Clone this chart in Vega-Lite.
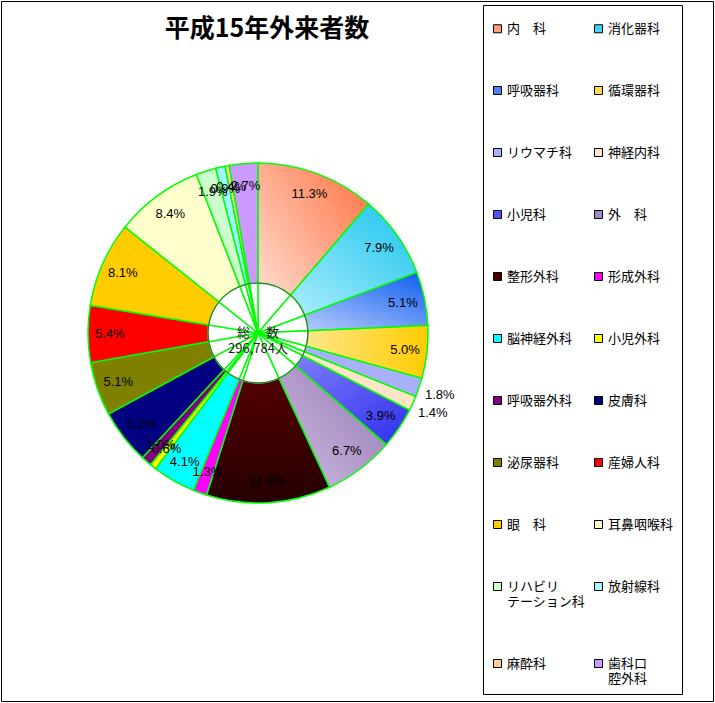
{
  "$schema": "https://vega.github.io/schema/vega-lite/v6.json",
  "width": 712,
  "height": 700,
  "autosize": {"type": "none"},
  "padding": {"left": 1, "top": 1, "right": 2, "bottom": 2},
  "background": "white",
  "config": {"view": {"stroke": "black", "strokeWidth": 1}},
  "title": {
    "text": "平成15年外来者数",
    "font": "Noto Sans CJK JP",
    "fontSize": 25,
    "fontWeight": "bold",
    "color": "black",
    "anchor": "middle",
    "baseline": "alphabetic",
    "offset": -35,
    "dx": -90,
    "dy": 26
  },
  "data": {
    "values": [
      {"no": 1, "name": "内　科", "pct": 11.3},
      {"no": 2, "name": "消化器科", "pct": 7.9},
      {"no": 3, "name": "呼吸器科", "pct": 5.1},
      {"no": 4, "name": "循環器科", "pct": 5.0},
      {"no": 5, "name": "リウマチ科", "pct": 1.8},
      {"no": 6, "name": "神経内科", "pct": 1.4},
      {"no": 7, "name": "小児科", "pct": 3.9},
      {"no": 8, "name": "外　科", "pct": 6.7},
      {"no": 9, "name": "整形外科", "pct": 11.8},
      {"no": 10, "name": "形成外科", "pct": 1.3},
      {"no": 11, "name": "脳神経外科", "pct": 4.1},
      {"no": 12, "name": "小児外科", "pct": 0.6},
      {"no": 13, "name": "呼吸器外科", "pct": 1.0},
      {"no": 14, "name": "皮膚科", "pct": 5.2},
      {"no": 15, "name": "泌尿器科", "pct": 5.1},
      {"no": 16, "name": "産婦人科", "pct": 5.4},
      {"no": 17, "name": "眼　科", "pct": 8.1},
      {"no": 18, "name": "耳鼻咽喉科", "pct": 8.4},
      {"no": 19, "name": "リハビリテーション科", "pct": 1.9},
      {"no": 20, "name": "放射線科", "pct": 0.9},
      {"no": 21, "name": "麻酔科", "pct": 0.4},
      {"no": 22, "name": "歯科口腔外科", "pct": 2.7}
    ]
  },
  "transform": [
    {"window": [{"op": "sum", "field": "pct", "as": "end"}], "sort": [{"field": "no"}], "frame": [null, 0]},
    {"calculate": "datum.end - datum.pct", "as": "start"},
    {"calculate": "(datum.start + datum.end) / 2", "as": "mid"},
    {"calculate": "format(datum.pct, '.1f') + '%'", "as": "label"}
  ],
  "encoding": {
    "x": {"datum": 0, "type": "quantitative", "scale": {"domain": [-257, 455], "nice": false, "zero": false}, "axis": null},
    "y": {"datum": 0, "type": "quantitative", "scale": {"domain": [-368, 332], "nice": false, "zero": false}, "axis": null}
  },
  "layer": [
    {
      "mark": {"type": "arc", "radius": 170, "stroke": "#00FF00", "strokeWidth": 1.5},
      "encoding": {
        "theta": {"field": "start", "type": "quantitative", "scale": {"domain": [0, 100]}},
        "theta2": {"field": "end"},
        "color": {
          "field": "name",
          "type": "nominal",
          "scale": {
            "domain": ["内　科", "消化器科", "呼吸器科", "循環器科", "リウマチ科", "神経内科", "小児科", "外　科", "整形外科", "形成外科", "脳神経外科", "小児外科", "呼吸器外科", "皮膚科", "泌尿器科", "産婦人科", "眼　科", "耳鼻咽喉科", "リハビリテーション科", "放射線科", "麻酔科", "歯科口腔外科"],
            "range": ["#FF9C7C", "#40D4F4", "#4C80F4", "#FFD84C", "#A8B0FC", "#FFE4C8", "#5050F4", "#A088C0", "#480000", "#FF00FF", "#00FFFF", "#FFFF00", "#800080", "#000080", "#808000", "#FF0000", "#FFCC00", "#FFFFCC", "#CCFFCC", "#A0F8FF", "#FFCC99", "#CC99FF"]
          },
          "condition": [
            {"test": "datum.name === '内　科'", "value": {"gradient": "linear", "x1": 0, "y1": 1, "x2": 1, "y2": 0, "stops": [{"offset": 0, "color": "#FFEAE2"}, {"offset": 1, "color": "#FF7040"}]}},
            {"test": "datum.name === '消化器科'", "value": {"gradient": "linear", "x1": 0, "y1": 1, "x2": 1, "y2": 0, "stops": [{"offset": 0, "color": "#CCF6FF"}, {"offset": 1, "color": "#18C4EE"}]}},
            {"test": "datum.name === '呼吸器科'", "value": {"gradient": "linear", "x1": 0, "y1": 1, "x2": 1, "y2": 0, "stops": [{"offset": 0, "color": "#D4E0FF"}, {"offset": 1, "color": "#0E5CF0"}]}},
            {"test": "datum.name === '循環器科'", "value": {"gradient": "linear", "x1": 0, "y1": 0.5, "x2": 1, "y2": 0.5, "stops": [{"offset": 0, "color": "#FFF2C0"}, {"offset": 1, "color": "#FFCC00"}]}},
            {"test": "datum.name === '小児科'", "value": {"gradient": "linear", "x1": 0, "y1": 0, "x2": 1, "y2": 1, "stops": [{"offset": 0, "color": "#9494FF"}, {"offset": 1, "color": "#2E2EEE"}]}},
            {"test": "datum.name === '外　科'", "value": {"gradient": "linear", "x1": 0, "y1": 1, "x2": 1, "y2": 0, "stops": [{"offset": 0, "color": "#D4C4E6"}, {"offset": 1, "color": "#8E6EAE"}]}},
            {"test": "datum.name === '整形外科'", "value": {"gradient": "linear", "x1": 0, "y1": 0, "x2": 0, "y2": 1, "stops": [{"offset": 0, "color": "#640000"}, {"offset": 1, "color": "#260000"}]}}
          ],
          "legend": {
            "orient": "none",
            "legendX": 482,
            "legendY": 4,
            "columns": 2,
            "direction": "horizontal",
            "title": " ",
            "titleFontSize": 6,
            "titlePadding": 3,
            "strokeColor": "black",
            "fillColor": "white",
            "padding": 8,
            "symbolType": "square",
            "symbolSize": 64,
            "symbolStrokeColor": "black",
            "symbolStrokeWidth": 1,
            "labelFont": "Noto Sans CJK JP",
            "labelFontSize": 13,
            "labelColor": "black",
            "labelOffset": 3,
            "labelLimit": 200,
            "rowPadding": 48,
            "columnPadding": 6,
            "labelExpr": "datum.label === 'リハビリテーション科' ? ['リハビリ', 'テーション科'] : datum.label === '歯科口腔外科' ? ['歯科口', '腔外科'] : datum.label",
            "encode": {"symbols": {"update": {"stroke": {"value": "black"}, "strokeWidth": {"value": 1}}}}
          }
        }
      }
    },
    {
      "mark": {"type": "arc", "radius": 50, "fill": "white", "stroke": "#00FF00", "strokeWidth": 1.5},
      "encoding": {
        "theta": {"field": "start", "type": "quantitative"},
        "theta2": {"field": "end"}
      }
    },
    {
      "data": {"values": [{"hole": 1}]},
      "mark": {"type": "arc", "radius": 50, "theta": 0, "theta2": 6.2832, "fill": null, "stroke": "#555555", "strokeWidth": 1},
      "encoding": {}
    },
    {
      "transform": [{"filter": "datum.name !== 'リウマチ科' && datum.name !== '神経内科'"}],
      "mark": {"type": "text", "radius": 148, "font": "Liberation Sans", "fontSize": 13, "color": "black", "align": "center", "baseline": "middle"},
      "encoding": {
        "theta": {"field": "mid", "type": "quantitative"},
        "text": {"field": "label", "type": "nominal"}
      }
    },
    {
      "transform": [{"filter": "datum.name === 'リウマチ科' || datum.name === '神経内科'"}],
      "mark": {"type": "text", "radius": 192, "font": "Liberation Sans", "fontSize": 13, "color": "black", "align": "center", "baseline": "middle"},
      "encoding": {
        "theta": {"field": "mid", "type": "quantitative"},
        "text": {"field": "label", "type": "nominal"}
      }
    },
    {
      "data": {"values": [{"caption": "総　 数", "total": "296,784人"}]},
      "mark": {"type": "text", "font": "Noto Sans CJK JP", "fontSize": 13, "color": "#222222", "align": "center", "baseline": "middle", "lineHeight": 16},
      "encoding": {
        "text": {"value": ["総　 数", "296,784人"]}
      }
    }
  ]
}
